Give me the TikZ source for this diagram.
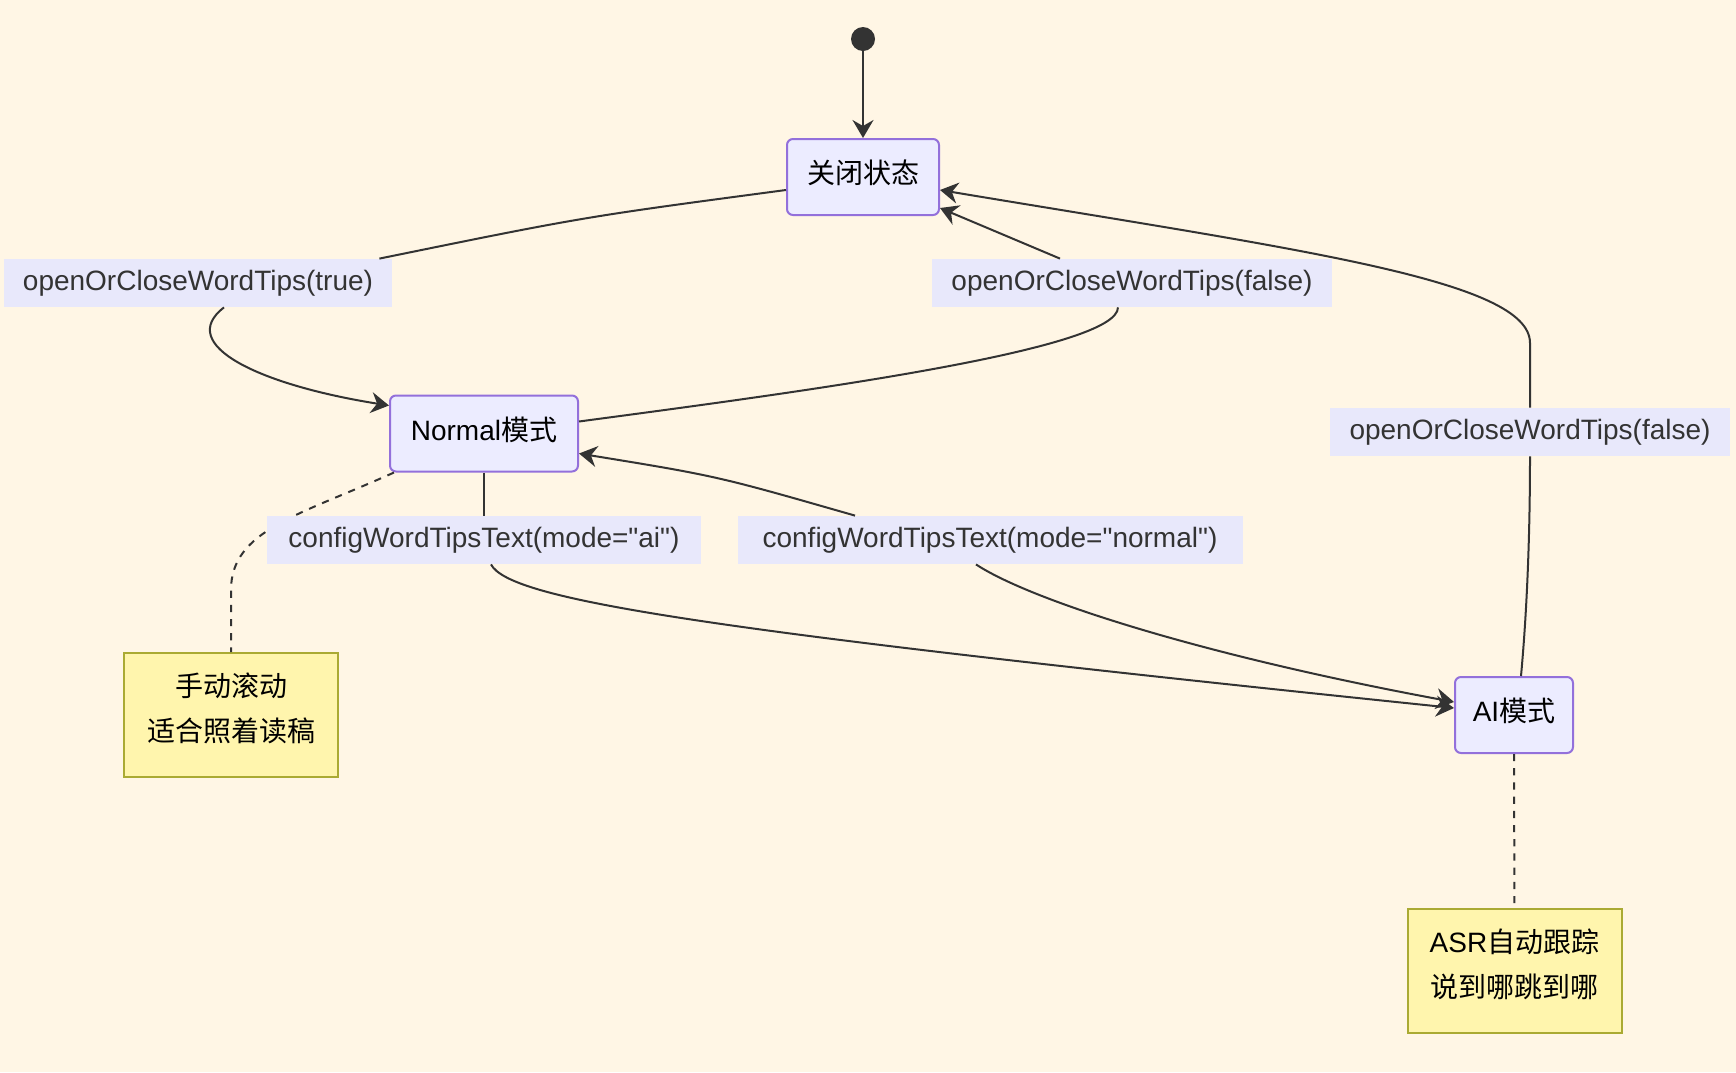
\documentclass[tikz,border=0pt]{standalone}
\usepackage{fontspec}
\newfontfamily\lat{Liberation Sans}
\newfontfamily\cjk{Noto Sans CJK SC}
\usetikzlibrary{arrows.meta,calc}
\definecolor{bgc}{HTML}{FFF6E5}
\definecolor{stf}{HTML}{ECECFF}
\definecolor{stb}{HTML}{9370DB}
\definecolor{lbf}{HTML}{E8E8FB}
\definecolor{nof}{HTML}{FFF5AD}
\definecolor{nob}{HTML}{AAAA33}
\definecolor{ink}{HTML}{333333}
\begin{document}
\begin{tikzpicture}[x=0.5pt,y=-0.5pt,font=\lat\fontsize{14}{22.5}\selectfont,
  state/.style={draw=stb,fill=stf,line width=1pt,rounded corners=3pt,minimum height=38pt,inner xsep=0pt,text=black,
    execute at end node={\rule[-5.2pt]{0pt}{0pt}}},
  lbl/.style={fill=lbf,text=ink,minimum height=24pt,inner xsep=0pt,inner ysep=0pt},
  note/.style={draw=nob,fill=nof,line width=1pt,minimum width=107pt,minimum height=62pt,align=center,text=black,
    execute at end node={\rule[-8.2pt]{0pt}{0pt}}},
  tr/.style={draw=ink,line width=1pt,-{Stealth[length=9pt,width=10.5pt,inset=3pt]}},
  plain/.style={draw=ink,line width=1pt},
  dl/.style={draw=ink,line width=1pt,dash pattern=on 3.6pt off 3.5pt}]

\fill[bgc] (0,0) rectangle (1736,1072);
\useasboundingbox (0,0) rectangle (1736,1072);

\node[circle,fill=ink,minimum size=12pt,inner sep=0pt] (init) at (863,39) {};
\foreach \n/\x/\y/\w/\t in {off/863/177/76/{\cjk 关闭状态}, nrm/484/433.5/94/{Normal{\cjk 模式}}, ai/1514/715/59/{AI{\cjk 模式}}}
  \node[state,minimum width=\w pt] (\n) at (\x,\y) {\t};
\node[note] (n-nrm) at (231,715) {\cjk 手动滚动\\\cjk 适合照着读稿};
\node[note] (n-ai) at (1514.5,971) {ASR{\cjk 自动跟踪}\\\cjk 说到哪跳到哪};

\draw[dl] ($(nrm.south west)+(5,0)$) .. controls (300,515) and (231,530) .. (231,590) -- (n-nrm);
\draw[dl] (ai) -- (n-ai);

\foreach \n/\x/\y/\w/\t in {e-true/198/283/194/openOrCloseWordTips(true), e-false/1132/283/200/openOrCloseWordTips(false),
  e-back/1530/432/200/openOrCloseWordTips(false), e-ai/484/540/217/configWordTipsText(mode="ai"),
  e-normal/990/540/252.5/configWordTipsText(mode="normal")}
  \node[lbl,minimum width=\w pt] (\n) at (\x,\y) {\t};

\draw[tr] (init) -- (off);
\draw[plain] ($(off.west)+(0,13)$) .. controls (583,217) .. ($(e-true.north east)+(-13,0)$);
\draw[tr] ($(e-true.south)+(26,0)$) .. controls (175,345) and (260,385) .. ($(nrm.north west)+(0,11)$);
\draw[plain] ($(nrm.east)+(0,-12)$) .. controls (800,392) and (1118,350) .. ($(e-false.south)+(-14,0)$);
\draw[tr] ($(e-false.north)+(-72,0)$) -- ($(off.south east)+(0,-8)$);
\draw[plain] ($(ai.north)+(7,0)$) .. controls (1528,600) and (1530,520) .. (e-back.south);
\draw[tr] (e-back.north) -- (1530,343) .. controls (1530,280) and (1300,250) .. ($(off.east)+(0,13)$);
\draw[plain] (nrm) -- (e-ai);
\draw[tr] ($(e-ai.south)+(7,0)$) .. controls (510,600) and (700,630) .. ($(ai.west)+(0,-7)$);
\draw[tr] ($(e-normal.north)+(-135,0)$) .. controls (717,476) .. ($(nrm.east)+(0,20)$);
\draw[tr] ($(e-normal.south)+(-14,0)$) .. controls (1030,600) and (1200,655) .. ($(ai.west)+(0,-13)$);
\end{tikzpicture}
\end{document}
